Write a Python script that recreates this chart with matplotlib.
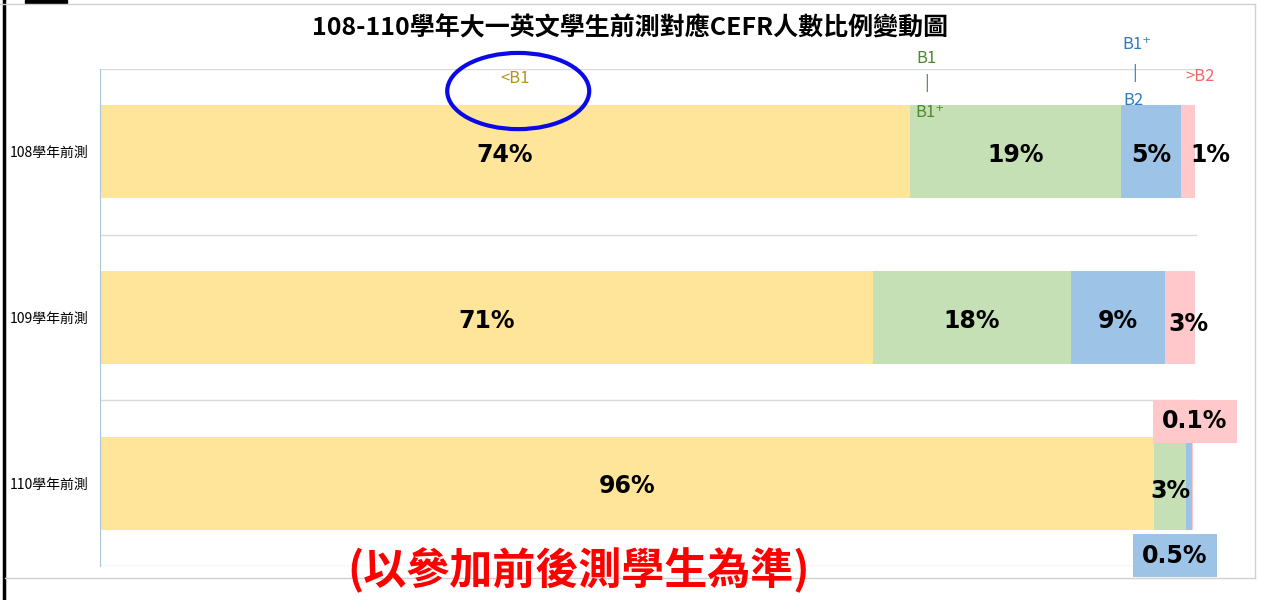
import matplotlib.pyplot as plt
from matplotlib.patches import Ellipse, Rectangle
from matplotlib.lines import Line2D

plt.rcParams['font.family'] = ['Noto Sans CJK TC', 'DejaVu Sans']

categories = ["108學年前測", "109學年前測", "110學年前測"]
levels = ["<B1", "B1~B1+", "B1+~B2", ">B2"]
values = [[74.0, 19.3, 5.4, 1.3],
          [70.6, 18.1, 8.6, 2.7],
          [96.3, 2.9, 0.5, 0.1]]
labels = [["74%", "19%", "5%", "1%"],
          ["71%", "18%", "9%", "3%"],
          ["96%", "3%", "0.5%", "0.1%"]]
colors = ["#FFE599", "#C5E0B4", "#9DC3E6", "#FFC9CC"]

# labels that sit off their segment (offset in points)
offsets = {(0, 3): (16, 0), (1, 3): (6, -2), (2, 1): (0, -3),
           (2, 3): (2, 47), (2, 2): (-10, -50)}
boxed = {(2, 3): "#FFC9CC", (2, 2): "#9DC3E6"}

fig = plt.figure(figsize=(12.61, 6.0), dpi=100)
ax = fig.add_axes([100/1261, 34/600, 1097/1261, 497/600])

pos = [0.5, 1.5, 2.5]
for i, row in enumerate(values):
    left = 0
    for j, v in enumerate(row):
        ax.barh(pos[i], v, left=left, height=0.56, color=colors[j], zorder=2)
        dx, dy = offsets.get((i, j), (0, 0))
        bb = None
        if (i, j) in boxed:
            bb = dict(boxstyle='square,pad=0.4', fc=boxed[(i, j)], ec='none')
        ax.annotate(labels[i][j], (left + v/2, pos[i] + 0.02), xytext=(dx, dy),
                    textcoords='offset points', ha='center', va='center',
                    fontsize=17, fontweight='bold', family=['DejaVu Sans'],
                    bbox=bb, zorder=5, annotation_clip=False)
        left += v

for y in [0, 1, 2, 3]:
    ax.axhline(y, color='#DADADA', lw=1, zorder=1)

ax.set_xlim(0, 100.2)
ax.set_ylim(3, 0)
ax.set_xticks([])
ax.set_yticks(pos, categories, fontsize=10)
for t in ax.get_yticklabels():
    t.set_ha('left')
ax.tick_params(axis='y', length=0, pad=65)
for s in ['top', 'right', 'bottom']:
    ax.spines[s].set_visible(False)
ax.spines['left'].set_color('#A9C6DA')

# level annotations above the bars
fs = 12
ax.text(37.9, 0.06, "<B1", color='#B8921E', fontsize=fs, ha='center', va='center', clip_on=False)
ax.add_patch(Ellipse((38.2, 0.133), 12.97, 0.46, fill=False, ec='#0A0AE6', lw=3, clip_on=False, zorder=6))
ax.text(75.5, -0.066, "B1", color='#4E8A2E', fontsize=fs, ha='center', va='center', clip_on=False)
ax.text(75.5, 0.084, "|", color='#4E8A2E', fontsize=fs, ha='center', va='center', clip_on=False)
ax.text(75.8, 0.26, "B1⁺", color='#4E8A2E', fontsize=fs, ha='center', va='center', clip_on=False, zorder=6)
ax.text(94.7, -0.145, "B1⁺", color='#2E7BC4', fontsize=fs, ha='center', va='center', clip_on=False)
ax.text(94.5, 0.024, "|", color='#2E7BC4', fontsize=fs, ha='center', va='center', clip_on=False)
ax.text(94.4, 0.193, "B2", color='#2E7BC4', fontsize=fs, ha='center', va='center', clip_on=False, zorder=6)
ax.text(100.5, 0.048, ">B2", color='#F06A6A', fontsize=fs, ha='center', va='center', clip_on=False)

fig.text(0.4996, 1 - 28/600, "108-110學年大一英文學生前測對應CEFR人數比例變動圖",
         ha='center', va='center', fontsize=18, fontweight='bold')
fig.text(579/1261, 1 - 570/600, "(以參加前後測學生為準)", ha='center', va='center',
         fontsize=31, fontweight='bold', color='#FF0000', zorder=10)

# outer frame of the original slide
fig.add_artist(Line2D([3.5/1261, 3.5/1261], [0, 1], color='black', lw=2.5))
fig.add_artist(Line2D([0, 1255/1261], [1 - 3.5/600, 1 - 3.5/600], color='#D0D0D0', lw=1))
fig.add_artist(Line2D([1255/1261, 1255/1261], [22/600, 1 - 3.5/600], color='#D0D0D0', lw=1))
fig.add_artist(Line2D([5/1261, 1255/1261], [22/600, 22/600], color='#D0D0D0', lw=1))
fig.add_artist(Rectangle((25/1261, 597/600), 42/1261, 3/600, color='black', transform=fig.transFigure))

fig.savefig("out.png", dpi=100)
